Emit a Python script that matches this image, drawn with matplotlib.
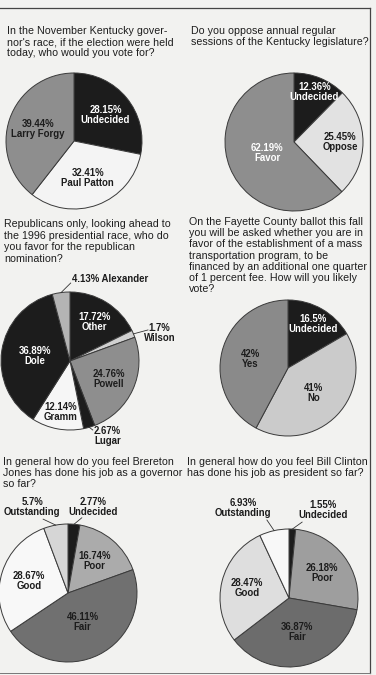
import matplotlib
matplotlib.use("Agg")
import matplotlib.pyplot as plt
import numpy as np

W, H = 376, 675

# ---- data ----
q1 = "In the November Kentucky gover-\nnor's race, if the election were held\ntoday, who would you vote for?"
labels1 = ["Undecided", "Paul Patton", "Larry Forgy"]
values1 = [28.15, 32.41, 39.44]

q2 = "Do you oppose annual regular\nsessions of the Kentucky legislature?"
labels2 = ["Undecided", "Oppose", "Favor"]
values2 = [12.36, 25.45, 62.19]

q3 = ("Republicans only, looking ahead to\nthe 1996 presidential race, who do\n"
      "you favor for the republican\nnomination?")
labels3 = ["Other", "Wilson", "Powell", "Lugar", "Gramm", "Dole", "Alexander"]
values3 = [17.72, 1.7, 24.76, 2.67, 12.14, 36.89, 4.13]

q4 = ("On the Fayette County ballot this fall\nyou will be asked whether you are in\n"
      "favor of the establishment of a mass\ntransportation program, to be\n"
      "financed by an additional one quarter\nof 1 percent fee. How will you likely\nvote?")
labels4 = ["Undecided", "No", "Yes"]
values4 = [16.5, 41, 42]

q5 = "In general how do you feel Brereton\nJones has done his job as a governor\nso far?"
labels5 = ["Undecided", "Poor", "Fair", "Good", "Outstanding"]
values5 = [2.77, 16.74, 46.11, 28.67, 5.7]

q6 = "In general how do you feel Bill Clinton\nhas done his job as president so far?"
labels6 = ["Undecided", "Poor", "Fair", "Good", "Outstanding"]
values6 = [1.55, 26.18, 36.87, 28.47, 6.93]

# ---- styles ----
BLK = "#1c1c1c"
PAPER = "#f2f2f0"
QFONT = ["Liberation Sans", "DejaVu Sans"]
LFONT = ["Liberation Sans", "DejaVu Sans"]
LSIZE = 6.9

fig = plt.figure(figsize=(W / 100, H / 100), dpi=100, facecolor=PAPER)


def px(x, y):
    return x / W, 1 - y / H


def question(x, y, txt, spacing=1.15):
    fig.text(*px(x, y), txt, ha="left", va="top", fontsize=7.7,
             family=QFONT, color="#1e1e1e", linespacing=spacing)


def pie(cx, cy, r, values, labels, colors, tcolors, dists, outside=None):
    k = 1.6
    ax = fig.add_axes([(cx - r * k) / W, 1 - (cy + r * k) / H, 2 * r * k / W, 2 * r * k / H])
    wedges, _ = ax.pie(values, colors=colors, startangle=90, counterclock=False,
                       wedgeprops=dict(edgecolor="#3a3a3a", linewidth=0.7))
    ax.set_xlim(-k, k)
    ax.set_ylim(-k, k)
    ax.set_aspect("equal")
    ax.axis("off")
    outside = outside or {}
    for i, (w, v, lab) in enumerate(zip(wedges, values, labels)):
        txt = f"{v:g}%\n{lab}"
        mid = np.deg2rad((w.theta1 + w.theta2) / 2)
        if i in outside:
            tx, ty, lx, ly, ha, one = outside[i]
            if one:
                txt = f"{v:g}% {lab}"
            ax.plot([np.cos(mid), lx], [np.sin(mid), ly], color="#333333", lw=0.6,
                    clip_on=False)
            ax.text(tx, ty, txt, ha=ha, va="center", fontsize=LSIZE, family=LFONT,
                    weight="bold", color=BLK, linespacing=1.0)
        else:
            d = dists[i]
            ax.text(d * np.cos(mid), d * np.sin(mid), txt, ha="center", va="center",
                    fontsize=LSIZE, family=LFONT, weight="bold", color=tcolors[i],
                    linespacing=1.0)
    return ax


# frame lines
fig.add_artist(plt.Line2D([0, 370 / W], [1 - 8 / H] * 2, color="#444444", lw=0.9))
fig.add_artist(plt.Line2D([370 / W] * 2, [1 - 8 / H, 1 - 673 / H], color="#444444", lw=0.9))
fig.add_artist(plt.Line2D([0, 370 / W], [1 - 673 / H] * 2, color="#777777", lw=0.7))

# panel 1
question(7, 26, q1)
pie(74, 141, 68, values1, labels1, [BLK, "#f4f4f4", "#8e8e8e"],
    ["white", BLK, BLK], [0.6, 0.58, 0.56])

# panel 2
question(191, 26, q2)
pie(294, 142, 69, values2, labels2, [BLK, "#e2e2e2", "#8e8e8e"],
    ["white", BLK, "white"], [0.78, 0.67, 0.42])

# panel 3
question(4, 219, q3, spacing=1.2)
pie(70, 361, 69, values3, labels3,
    [BLK, "#d0d0d0", "#8e8e8e", BLK, "#f6f6f6", BLK, "#b4b4b4"],
    ["white", BLK, BLK, BLK, BLK, "white", BLK],
    [0.67, 1, 0.62, 1, 0.75, 0.51, 1],
    outside={1: (1.3, 0.41, 1.13, 0.45, "center", False),
             3: (0.54, -1.09, 0.33, -1.0, "center", False),
             6: (0.03, 1.19, 0.01, 1.13, "left", True)})

# panel 4
question(189, 217, q4)
pie(288, 368, 68, values4, labels4, [BLK, "#cbcbcb", "#8a8a8a"],
    ["white", BLK, BLK], [0.74, 0.53, 0.57])

# panel 5
question(3, 457, q5)
pie(68, 593, 69, values5, labels5,
    [BLK, "#ababab", "#707070", "#f8f8f8", "#d6d6d6"],
    ["white", BLK, BLK, BLK, BLK], [1, 0.6, 0.47, 0.59, 1],
    outside={0: (0.37, 1.25, 0.2, 1.09, "center", False),
             4: (-0.52, 1.25, -0.36, 1.07, "center", False)})

# panel 6
question(187, 457, q6)
pie(289, 598, 69, values6, labels6,
    [BLK, "#9e9e9e", "#6c6c6c", "#dedede", "#f8f8f8"],
    ["white", BLK, BLK, BLK, BLK], [1, 0.6, 0.51, 0.63, 1],
    outside={0: (0.5, 1.28, 0.19, 1.1, "center", False),
             4: (-0.67, 1.30, -0.32, 1.13, "center", False)})

fig.savefig("out.png", dpi=100, facecolor=PAPER)
